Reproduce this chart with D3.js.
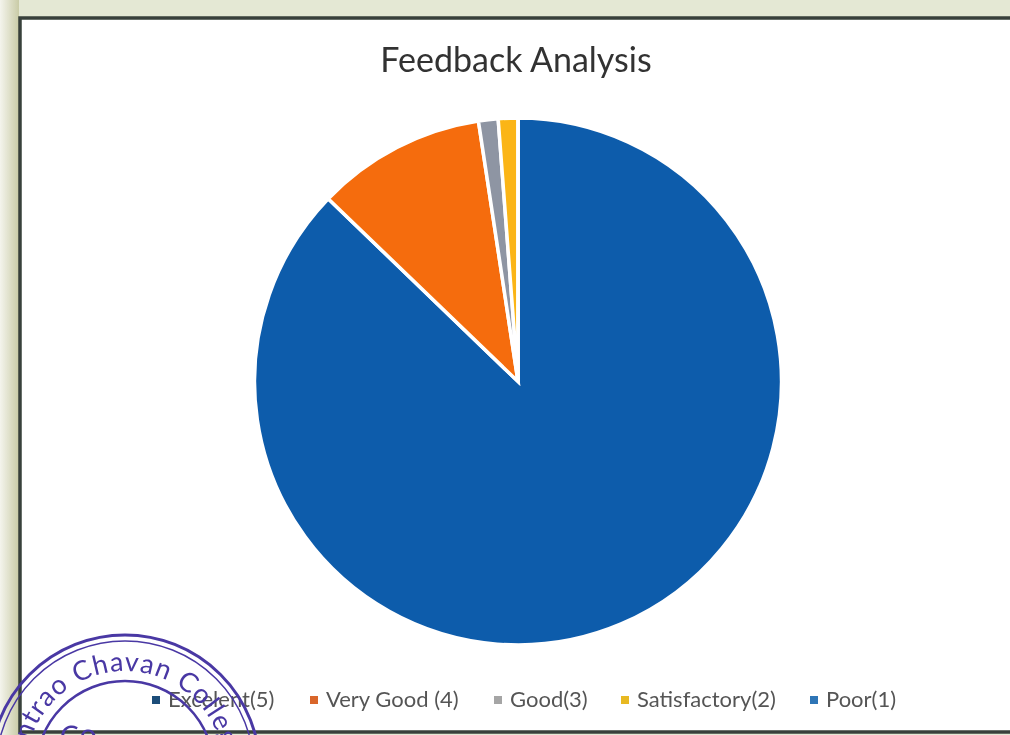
<!DOCTYPE html>
<html>
<head>
<meta charset="utf-8">
<title>Feedback Analysis</title>
<script src="https://cdn.jsdelivr.net/npm/d3@7"></script>
<style>
  html, body { margin: 0; padding: 0; background: #fff; overflow: hidden; }
  text { font-family: Lato, "Open Sans", sans-serif; }
</style>
</head>
<body>
<div id="chart"></div>
<script>
var title = "Feedback Analysis";
var categories = ["Excelent(5)", "Very Good (4)", "Good(3)", "Satisfactory(2)", "Poor(1)"];
var values = [87.2, 10.4, 1.2, 1.2, 0];
var sliceColors = ["#0f5cab", "#f56c08", "#8e95a3", "#fbb512", "#2e75b6"];
var swatchColors = ["#1f4e79", "#d9662a", "#a5a5a5", "#e8b923", "#2e75b6"];
var legendX = [152, 310, 494, 621, 810];

var svg = d3.select("#chart").append("svg")
  .attr("width", 1010)
  .attr("height", 735);

// soft look of the scanned page
var defs = svg.append("defs");
defs.append("filter").attr("id", "scan")
  .append("feGaussianBlur").attr("stdDeviation", 0.7);

var edge = defs.append("linearGradient").attr("id", "leftEdge");
edge.append("stop").attr("offset", "0%").attr("stop-color", "#fff");
edge.append("stop").attr("offset", "100%").attr("stop-color", "#c9cba6");

var stampPath = d3.path();
stampPath.arc(0, 0, 99, -Math.PI, 0);
defs.append("path").attr("id", "stampArc").attr("d", stampPath.toString());

var page = svg.append("g").attr("filter", "url(#scan)");

// scanned paper edge and frame
page.append("rect").attr("x", -5).attr("y", -5).attr("width", 1020).attr("height", 745).attr("fill", "#e4e8d4");
page.append("rect").attr("x", -5).attr("y", -5).attr("width", 24).attr("height", 745).attr("fill", "url(#leftEdge)");
page.append("rect").attr("x", 20).attr("y", 18).attr("width", 1030).attr("height", 714)
  .attr("fill", "#fff").attr("stroke", "#37403a").attr("stroke-width", 3.5);

page.append("text")
  .attr("x", 516).attr("y", 72)
  .attr("text-anchor", "middle")
  .attr("font-size", 34)
  .attr("fill", "#333")
  .text(title);

// pie
var pie = d3.pie().sort(null).value(function(d) { return d; });
var arc = d3.arc().innerRadius(0).outerRadius(263.5);

page.append("g")
  .attr("transform", "translate(518,381.5)")
  .selectAll("path")
  .data(pie(values))
  .enter()
  .append("path")
  .attr("d", arc)
  .attr("fill", function(d, i) { return sliceColors[i]; })
  .attr("stroke", "#fff")
  .attr("stroke-width", 3.5);

// legend
var legend = page.append("g").selectAll("g")
  .data(categories)
  .enter()
  .append("g")
  .attr("transform", function(d, i) { return "translate(" + legendX[i] + ",700)"; });

legend.append("rect")
  .attr("x", 0).attr("y", -4)
  .attr("width", 8).attr("height", 8)
  .attr("fill", function(d, i) { return swatchColors[i]; });

legend.append("text")
  .attr("x", 16).attr("y", 7)
  .attr("font-size", 22)
  .attr("fill", "#555")
  .text(function(d) { return d; });

// college stamp on top of the legend
var stamp = page.append("g")
  .attr("transform", "translate(125,770)")
  .attr("fill", "none")
  .attr("stroke", "#4a38a4");

stamp.append("circle").attr("r", 135).attr("stroke-width", 3);
stamp.append("circle").attr("r", 129).attr("stroke-width", 1.5);
stamp.append("circle").attr("r", 89).attr("stroke-width", 2.5);

stamp.append("text")
  .attr("fill", "#4a38a4").attr("stroke", "none")
  .attr("font-size", 27)
  .attr("font-family", "Liberation Sans, sans-serif")
  .attr("letter-spacing", 1)
  .append("textPath")
  .attr("href", "#stampArc")
  .attr("startOffset", "9.5%")
  .text("ntrao Chavan College");

stamp.append("text")
  .attr("x", -60).attr("y", -30)
  .attr("fill", "#4a38a4").attr("stroke", "none")
  .attr("font-size", 30)
  .attr("font-family", "Liberation Sans, sans-serif")
  .attr("transform", "rotate(-8)")
  .text("Co");
</script>
</body>
</html>
